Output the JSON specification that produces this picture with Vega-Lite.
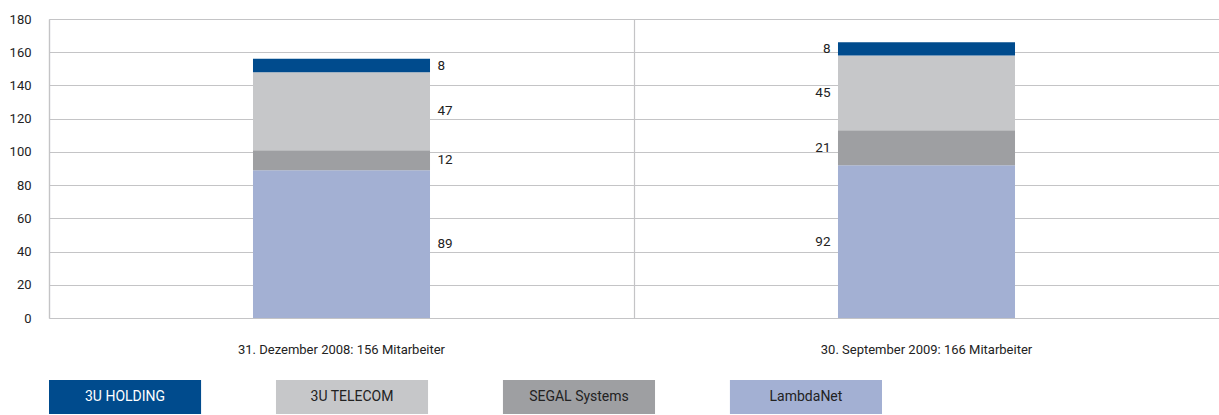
{
  "$schema": "https://vega.github.io/schema/vega-lite/v6.json",
  "padding": {"top": 13, "left": 9, "right": 0, "bottom": 0},
  "background": "white",
  "config": {
    "font": "Roboto",
    "view": {"stroke": null},
    "concat": {"spacing": 24}
  },
  "datasets": {
    "staff": [
      {"date": "31. Dezember 2008: 156 Mitarbeiter", "company": "LambdaNet", "rank": 1, "value": 89},
      {"date": "31. Dezember 2008: 156 Mitarbeiter", "company": "SEGAL Systems", "rank": 2, "value": 12},
      {"date": "31. Dezember 2008: 156 Mitarbeiter", "company": "3U TELECOM", "rank": 3, "value": 47},
      {"date": "31. Dezember 2008: 156 Mitarbeiter", "company": "3U HOLDING", "rank": 4, "value": 8},
      {"date": "30. September 2009: 166 Mitarbeiter", "company": "LambdaNet", "rank": 1, "value": 92},
      {"date": "30. September 2009: 166 Mitarbeiter", "company": "SEGAL Systems", "rank": 2, "value": 21},
      {"date": "30. September 2009: 166 Mitarbeiter", "company": "3U TELECOM", "rank": 3, "value": 45},
      {"date": "30. September 2009: 166 Mitarbeiter", "company": "3U HOLDING", "rank": 4, "value": 8}
    ]
  },
  "vconcat": [
    {
      "width": 1170,
      "height": 299,
      "data": {"name": "staff"},
      "transform": [
        {"stack": "value", "groupby": ["date"], "sort": [{"field": "rank", "order": "ascending"}], "as": ["v0", "v1"]},
        {"calculate": "(datum.v0 + datum.v1) / 2", "as": "mid"}
      ],
      "encoding": {
        "x": {
          "field": "date",
          "type": "nominal",
          "sort": ["31. Dezember 2008: 156 Mitarbeiter", "30. September 2009: 166 Mitarbeiter"],
          "scale": {"paddingInner": 0, "paddingOuter": 0},
          "axis": {
            "title": null,
            "domain": false,
            "ticks": false,
            "grid": true,
            "bandPosition": 0,
            "gridColor": "#c4c4c6",
            "gridWidth": 1.2,
            "labelAngle": 0,
            "labelFontSize": 13,
            "labelLimit": 0,
            "labelColor": "#222222",
            "labelPadding": 25
          }
        }
      },
      "layer": [
        {
          "mark": {"type": "bar", "width": {"band": 0.3026}},
          "encoding": {
            "y": {
              "field": "v0",
              "type": "quantitative",
              "scale": {"domain": [0, 180]},
              "axis": {
                "title": null,
                "values": [0, 20, 40, 60, 80, 100, 120, 140, 160, 180],
                "labelOverlap": false,
                "domain": true,
                "domainColor": "#c4c4c6",
                "domainWidth": 1.2,
                "ticks": false,
                "grid": true,
                "gridColor": "#c4c4c6",
                "gridWidth": 1.2,
                "labelFontSize": 13,
                "labelColor": "#222222",
                "labelPadding": 18
              }
            },
            "y2": {"field": "v1"},
            "color": {
              "field": "company",
              "type": "nominal",
              "scale": {
                "domain": ["3U HOLDING", "3U TELECOM", "SEGAL Systems", "LambdaNet"],
                "range": ["#004b8d", "#c6c7c9", "#9e9fa2", "#a3b0d3"]
              },
              "legend": null
            }
          }
        },
        {
          "transform": [{"filter": "datum.date === '31. Dezember 2008: 156 Mitarbeiter'"}],
          "mark": {"type": "text", "align": "left", "baseline": "middle", "dx": 96, "fontSize": 13.5, "color": "#222222"},
          "encoding": {
            "y": {
              "field": "mid",
              "type": "quantitative",
              "scale": {"domain": [0, 180]},
              "axis": {
                "title": null,
                "values": [0, 20, 40, 60, 80, 100, 120, 140, 160, 180],
                "labelOverlap": false,
                "domain": true,
                "domainColor": "#c4c4c6",
                "domainWidth": 1.2,
                "ticks": false,
                "grid": true,
                "gridColor": "#c4c4c6",
                "gridWidth": 1.2,
                "labelFontSize": 13,
                "labelColor": "#222222",
                "labelPadding": 18
              }
            },
            "text": {"field": "value", "type": "quantitative"}
          }
        },
        {
          "transform": [{"filter": "datum.date === '30. September 2009: 166 Mitarbeiter'"}],
          "mark": {"type": "text", "align": "right", "baseline": "middle", "dx": -96, "fontSize": 13.5, "color": "#222222"},
          "encoding": {
            "y": {
              "field": "mid",
              "type": "quantitative",
              "scale": {"domain": [0, 180]},
              "axis": {
                "title": null,
                "values": [0, 20, 40, 60, 80, 100, 120, 140, 160, 180],
                "labelOverlap": false,
                "domain": true,
                "domainColor": "#c4c4c6",
                "domainWidth": 1.2,
                "ticks": false,
                "grid": true,
                "gridColor": "#c4c4c6",
                "gridWidth": 1.2,
                "labelFontSize": 13,
                "labelColor": "#222222",
                "labelPadding": 18
              }
            },
            "text": {"field": "value", "type": "quantitative"}
          }
        }
      ]
    },
    {
      "width": 833,
      "height": 34,
      "data": {"name": "staff"},
      "transform": [
        {"aggregate": [{"op": "sum", "field": "value", "as": "total"}], "groupby": ["company"]}
      ],
      "encoding": {
        "x": {
          "field": "company",
          "type": "nominal",
          "sort": ["3U HOLDING", "3U TELECOM", "SEGAL Systems", "LambdaNet"],
          "scale": {"paddingInner": 0.33, "paddingOuter": 0, "align": 0},
          "axis": null
        }
      },
      "layer": [
        {
          "mark": {"type": "bar"},
          "encoding": {
            "color": {
              "field": "company",
              "type": "nominal",
              "scale": {
                "domain": ["3U HOLDING", "3U TELECOM", "SEGAL Systems", "LambdaNet"],
                "range": ["#004b8d", "#c6c7c9", "#9e9fa2", "#a3b0d3"]
              },
              "legend": null
            }
          }
        },
        {
          "mark": {"type": "text", "fontSize": 14, "baseline": "middle"},
          "encoding": {
            "text": {"field": "company", "type": "nominal"},
            "color": {
              "condition": {"test": "datum.company === '3U HOLDING'", "value": "#ffffff"},
              "value": "#222222"
            }
          }
        }
      ]
    }
  ]
}
